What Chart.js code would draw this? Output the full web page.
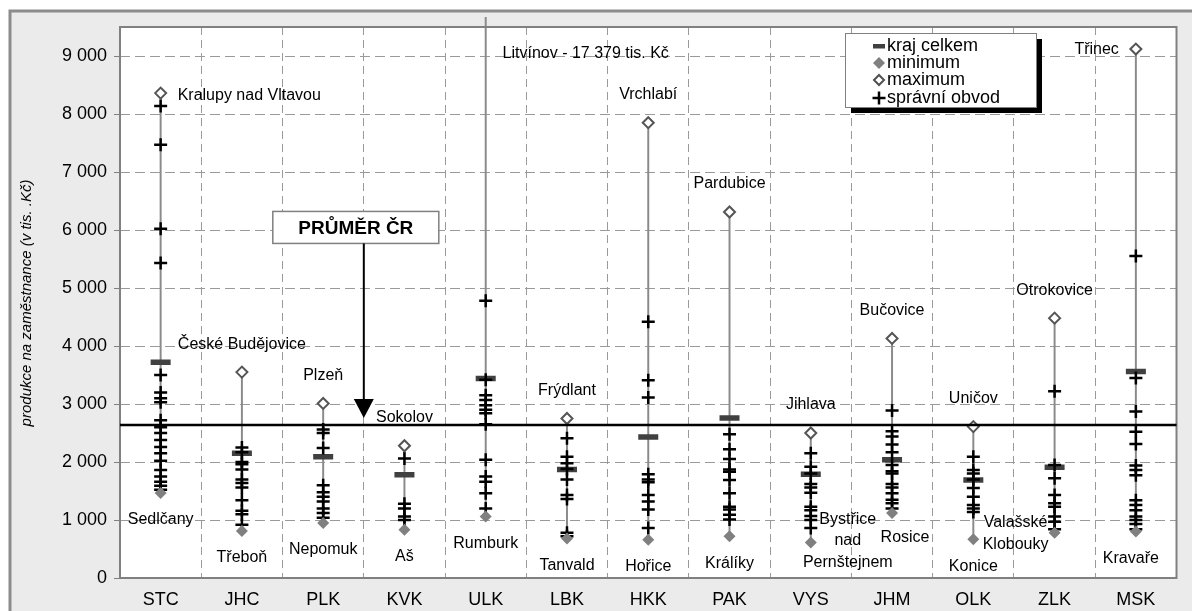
<!DOCTYPE html>
<html>
<head>
<meta charset="utf-8">
<script src="https://cdn.jsdelivr.net/npm/chart.js@4"></script>
<style>
  html, body { margin: 0; padding: 0; background: #fff; }
  #wrap { width: 1192px; height: 611px; position: relative; }
</style>
</head>
<body>
<div id="wrap"><canvas id="chart"></canvas></div>
<script>
// kraje a souhrnné hodnoty (tis. Kč na zaměstnance)
const kraje = ["STC", "JHC", "PLK", "KVK", "ULK", "LBK", "HKK", "PAK", "VYS", "JHM", "OLK", "ZLK", "MSK"];
const krajCelkem = [3720, 2150, 2090, 1780, 3440, 1870, 2430, 2760, 1790, 2040, 1690, 1910, 3560];
const minimum = [1465, 810, 950, 830, 1060, 680, 660, 720, 610, 1120, 670, 780, 800];
const maximum = [8360, 3550, 3010, 2280, 17379, 2750, 7850, 6310, 2500, 4130, 2610, 4480, 9120];
const prumerCR = 2640;
const osaY = [0, 1000, 2000, 3000, 4000, 5000, 6000, 7000, 8000, 9000];

const mestaMax = ["Kralupy nad Vltavou", "České Budějovice", "Plzeň", "Sokolov", "Litvínov - 17 379 tis. Kč",
  "Frýdlant", "Vrchlabí", "Pardubice", "Jihlava", "Bučovice", "Uničov", "Otrokovice", "Třinec"];
const mestaMin = ["Sedlčany", "Třeboň", "Nepomuk", "Aš", "Rumburk", "Tanvald", "Hořice", "Králíky",
  "Bystřice\nnad\nPernštejnem", "Rosice", "Konice", "Valašské\nKlobouky", "Kravaře"];

// správní obvody podle krajů
const obvodySTC = [8140, 7470, 6020, 5430, 3500, 3200, 3100, 3030, 2720, 2600, 2500, 2380, 2260, 2150, 2020, 1860, 1750, 1660, 1590, 1520];
const obvodyJHC = [2250, 2170, 2000, 1960, 1870, 1700, 1640, 1560, 1340, 1160, 1100, 920];
const obvodyPLK = [2560, 2500, 2240, 1600, 1480, 1400, 1320, 1200, 1120, 1040];
const obvodyKVK = [2060, 1280, 1200, 1060, 1000];
const obvodyULK = [4780, 3420, 3150, 3070, 2980, 2900, 2840, 2650, 2040, 1750, 1660, 1460, 1200];
const obvodyLBK = [2410, 2090, 1980, 1880, 1700, 1430, 1360, 780, 720];
const obvodyHKK = [4420, 3410, 3110, 1790, 1700, 1650, 1430, 1320, 1180, 860];
const obvodyPAK = [2480, 2220, 2050, 1870, 1830, 1690, 1460, 1230, 1180, 1090, 1010];
const obvodyVYS = [2150, 1920, 1800, 1620, 1560, 1470, 1230, 1170, 1070, 1000, 860];
const obvodyJHM = [2890, 2530, 2440, 2300, 2170, 1950, 1840, 1800, 1620, 1560, 1460, 1350, 1290, 1200];
const obvodyOLK = [2090, 1860, 1800, 1700, 1550, 1400, 1260, 1200, 1140];
const obvodyZLK = [3220, 1950, 1720, 1430, 1290, 1230, 1060, 970, 840];
const obvodyMSK = [5550, 3450, 2870, 2520, 2310, 1940, 1860, 1770, 1340, 1260, 1170, 1060, 1000, 930, 840];

const obvody = [obvodySTC, obvodyJHC, obvodyPLK, obvodyKVK, obvodyULK, obvodyLBK, obvodyHKK,
  obvodyPAK, obvodyVYS, obvodyJHM, obvodyOLK, obvodyZLK, obvodyMSK];

const FONT = "Arial, 'Liberation Sans', sans-serif";

function formatCislo(v) {
  return String(v).replace(/\B(?=(\d{3})+(?!\d))/g, " ");
}

// posuny popisků (px) tam, kde nejsou standardně nad/pod bodem
const posunMax = { 0: { dx: 17, dy: 2, align: "left" }, 12: { dx: -17, dy: 1, align: "right" } };
const posunMin = { 8: { dx: 37, dy: -2 }, 9: { dx: 13, dy: 25 }, 11: { dx: -39, dy: 1 }, 12: { dx: -5, dy: 27 } };

// pozadí, rámeček a popisky
const kresba = {
  id: "kresba",
  beforeDraw(chart) {
    const { ctx, chartArea: a } = chart;
    ctx.save();
    ctx.fillStyle = "#fff";
    ctx.fillRect(0, 0, chart.width, chart.height);
    ctx.fillStyle = "#ebebeb";
    ctx.fillRect(10, 11, chart.width, chart.height);
    ctx.strokeStyle = "#8c8c8c";
    ctx.lineWidth = 3;
    ctx.strokeRect(10, 11, chart.width + 10, chart.height + 10);
    ctx.fillStyle = "#fff";
    ctx.fillRect(a.left, a.top, a.right - a.left, a.bottom - a.top);
    ctx.restore();
  },
  afterDatasetsDraw(chart) {
    const { ctx, chartArea: a, scales } = chart;
    const x = scales.x, y = scales.y;
    ctx.save();

    // rámeček plochy
    ctx.strokeStyle = "#808080";
    ctx.lineWidth = 2;
    ctx.strokeRect(a.left, a.top, a.right - a.left, a.bottom - a.top);

    // průměr ČR
    const yp = y.getPixelForValue(prumerCR);
    ctx.strokeStyle = "#000";
    ctx.lineWidth = 2.5;
    ctx.beginPath();
    ctx.moveTo(a.left, yp);
    ctx.lineTo(a.right, yp);
    ctx.stroke();

    // šipka a rámeček PRŮMĚR ČR
    const xs = (x.getPixelForValue(2) + x.getPixelForValue(3)) / 2;
    const boxTop = y.getPixelForValue(6320);
    ctx.fillStyle = "#fff";
    ctx.fillRect(xs - 91, boxTop, 166, 32);
    ctx.strokeStyle = "#808080";
    ctx.lineWidth = 1.5;
    ctx.strokeRect(xs - 91, boxTop, 166, 32);
    ctx.fillStyle = "#000";
    ctx.font = "bold 19px " + FONT;
    ctx.textAlign = "center";
    ctx.textBaseline = "middle";
    ctx.fillText("PRŮMĚR ČR", xs - 8, boxTop + 17);
    ctx.strokeStyle = "#000";
    ctx.lineWidth = 2;
    ctx.beginPath();
    ctx.moveTo(xs, boxTop + 32);
    ctx.lineTo(xs, yp - 25);
    ctx.stroke();
    ctx.beginPath();
    ctx.moveTo(xs - 10, yp - 26);
    ctx.lineTo(xs + 10, yp - 26);
    ctx.lineTo(xs, yp - 7);
    ctx.closePath();
    ctx.fill();

    // popisky měst
    ctx.font = "16px " + FONT;
    ctx.fillStyle = "#000";
    kraje.forEach((k, i) => {
      const px = x.getPixelForValue(i);
      // maximum
      if (maximum[i] > 9500) {
        ctx.textAlign = "center";
        ctx.fillText(mestaMax[i], px + 100, y.getPixelForValue(9050));
      } else {
        const o = posunMax[i] || { dx: 0, dy: -28, align: "center" };
        ctx.textAlign = o.align;
        ctx.fillText(mestaMax[i], px + o.dx, y.getPixelForValue(maximum[i]) + o.dy);
      }
      // minimum
      const o2 = posunMin[i] || { dx: 0, dy: 27 };
      const radky = mestaMin[i].split("\n");
      const py = y.getPixelForValue(minimum[i]) + o2.dy;
      const start = py - (radky.length - 1) * 21.5 / 2;
      ctx.textAlign = "center";
      radky.forEach((r, j) => ctx.fillText(r, px + o2.dx, start + j * 21.5));
    });

    // titulek osy y
    ctx.save();
    ctx.translate(27, 303);
    ctx.rotate(-Math.PI / 2);
    ctx.font = "italic 15px " + FONT;
    ctx.textAlign = "center";
    ctx.fillText("produkce na zaměstnance (v tis. .Kč)", 0, 0);
    ctx.restore();

    // legenda
    const lx = 845, ly = 33, lw = 191, lh = 74;
    ctx.fillStyle = "#000";
    ctx.fillRect(lx + 6, ly + 6, lw, lh);
    ctx.fillStyle = "#fff";
    ctx.fillRect(lx, ly, lw, lh);
    ctx.strokeStyle = "#808080";
    ctx.lineWidth = 1;
    ctx.strokeRect(lx + 0.5, ly + 0.5, lw, lh);
    const mx = 879, tx = 887;
    const radkyL = [46, 63, 80, 98];
    ctx.font = "18px " + FONT;
    ctx.textAlign = "left";
    ctx.fillStyle = "#000";
    ["kraj celkem", "minimum", "maximum", "správní obvod"].forEach((t, j) => ctx.fillText(t, tx, radkyL[j]));
    ctx.fillStyle = "#404040";
    ctx.fillRect(mx - 6, radkyL[0] - 2, 12, 4.5);
    ctx.fillStyle = "#808080";
    ctx.beginPath();
    ctx.moveTo(mx, radkyL[1] - 6); ctx.lineTo(mx + 6, radkyL[1]); ctx.lineTo(mx, radkyL[1] + 6); ctx.lineTo(mx - 6, radkyL[1]);
    ctx.closePath(); ctx.fill();
    ctx.strokeStyle = "#505050";
    ctx.lineWidth = 2;
    ctx.fillStyle = "#fff";
    ctx.beginPath();
    ctx.moveTo(mx, radkyL[2] - 5); ctx.lineTo(mx + 5, radkyL[2]); ctx.lineTo(mx, radkyL[2] + 5); ctx.lineTo(mx - 5, radkyL[2]);
    ctx.closePath(); ctx.fill(); ctx.stroke();
    ctx.strokeStyle = "#000";
    ctx.lineWidth = 2.5;
    ctx.beginPath();
    ctx.moveTo(mx - 6.5, radkyL[3]); ctx.lineTo(mx + 6.5, radkyL[3]);
    ctx.moveTo(mx, radkyL[3] - 6.5); ctx.lineTo(mx, radkyL[3] + 6.5);
    ctx.stroke();

    ctx.restore();
  },
};

// body správních obvodů
const bodyObvodu = [];
obvody.forEach((hodnoty, i) => hodnoty.forEach((v) => bodyObvodu.push({ x: kraje[i], y: v })));

const ctx = document.getElementById("chart").getContext("2d");
new Chart(ctx, {
  type: "bar",
  data: {
    labels: kraje,
    datasets: [
      {
        label: "rozpětí",
        data: kraje.map((k, i) => [minimum[i], maximum[i]]),
        backgroundColor: "#8a8a8a",
        barThickness: 1.3,
        clip: { left: 0, top: 10, right: 0, bottom: 0 },
        order: 10,
      },
      {
        type: "line",
        label: "kraj celkem",
        data: krajCelkem.map((v, i) => ({ x: kraje[i], y: v })),
        showLine: false,
        pointStyle: "line",
        pointRadius: 10,
        borderWidth: 5.5,
        borderColor: "#404040",
        order: 4,
      },
      {
        type: "line",
        label: "správní obvod",
        data: bodyObvodu,
        showLine: false,
        pointStyle: "cross",
        pointRadius: 6.5,
        borderWidth: 2.5,
        borderColor: "#000",
        order: 3,
      },
      {
        type: "line",
        label: "minimum",
        data: minimum.map((v, i) => ({ x: kraje[i], y: v })),
        showLine: false,
        pointStyle: "rectRot",
        pointRadius: 6,
        borderWidth: 0,
        backgroundColor: "#808080",
        borderColor: "#808080",
        order: 2,
      },
      {
        type: "line",
        label: "maximum",
        data: maximum.map((v, i) => ({ x: kraje[i], y: v })),
        showLine: false,
        pointStyle: "rectRot",
        pointRadius: 5.5,
        borderWidth: 2,
        backgroundColor: "#fff",
        borderColor: "#555",
        order: 1,
      },
    ],
  },
  options: {
    responsive: true,
    maintainAspectRatio: false,
    animation: false,
    layout: { padding: { left: 0, top: 27, right: 6, bottom: 0 } },
    plugins: {
      legend: { display: false },
      tooltip: { enabled: false },
    },
    scales: {
      x: {
        type: "category",
        offset: true,
        grid: { offset: true, color: "#9a9a9a", lineWidth: 1, drawTicks: false },
        border: { display: false, dash: [8, 5] },
        ticks: { color: "#000", font: { size: 18, family: FONT }, padding: 11 },
        afterFit: (s) => { s.height = 33; },
      },
      y: {
        type: "linear",
        min: 0,
        max: 9500,
        ticks: {
          autoSkip: false,
          color: "#000",
          font: { size: 18, family: FONT },
          padding: 7,
          callback: (v) => formatCislo(v),
        },
        afterBuildTicks: (s) => { s.ticks = osaY.map((v) => ({ value: v })); },
        grid: { color: "#9a9a9a", lineWidth: 1, tickLength: 6, tickColor: "#808080", tickBorderDash: [] },
        border: { display: false, dash: [10, 5] },
        afterFit: (s) => { s.width = 120; },
      },
    },
  },
  plugins: [kresba],
});
</script>
</body>
</html>
